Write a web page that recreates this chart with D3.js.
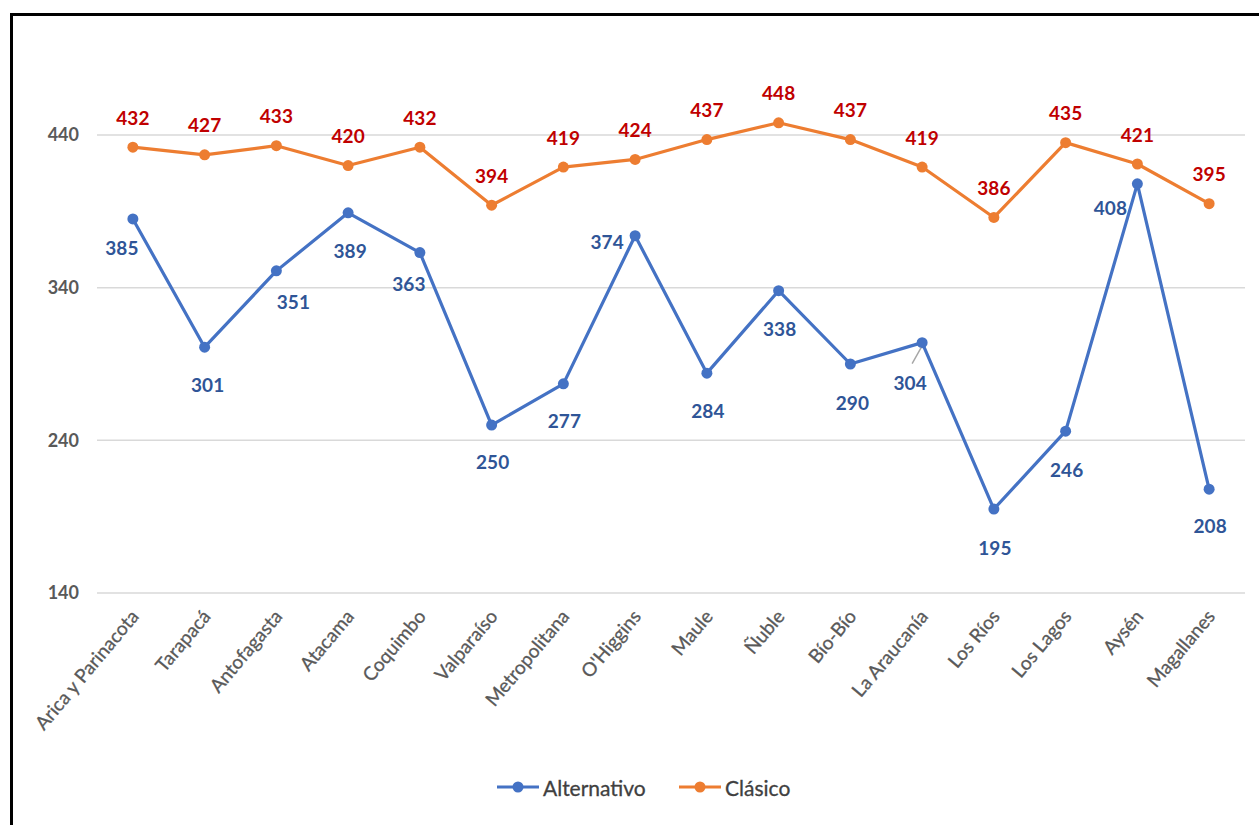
<!DOCTYPE html>
<html>
<head>
<meta charset="utf-8">
<script src="https://cdn.jsdelivr.net/npm/d3@7"></script>
<style>
  body { margin: 0; background: #fff; }
  svg { display: block; }
</style>
</head>
<body>
<div id="chart"></div>
<script>
// datos
var regiones = ["Arica y Parinacota", "Tarapacá", "Antofagasta", "Atacama", "Coquimbo", "Valparaíso",
    "Metropolitana", "O'Higgins", "Maule", "Ñuble", "Bío-Bío", "La Araucanía", "Los Ríos",
    "Los Lagos", "Aysén", "Magallanes"];
var alternativo = [385, 301, 351, 389, 363, 250, 277, 374, 284, 338, 290, 304, 195, 246, 408, 208];
var clasico = [432, 427, 433, 420, 432, 394, 419, 424, 437, 448, 437, 419, 386, 435, 421, 395];
var yTicks = [140, 240, 340, 440];

// desplazamiento de las etiquetas de Alternativo (dx, dy)
var altLabelOff = [[-11, 29], [3, 37], [17, 31], [2, 38], [-11, 31], [1, 36], [1, 37], [-28, 6],
    [1, 37], [1, 38], [2, 38], [-12, 40], [1, 38], [1, 38], [-27, 24], [1, 36]];

var W = 1259, H = 825;
var svg = d3.select("#chart").append("svg")
    .attr("width", W)
    .attr("height", H);

svg.append("rect")
    .attr("x", 11.5).attr("y", 14.5)
    .attr("width", W + 20).attr("height", H + 20)
    .attr("fill", "#fff")
    .attr("stroke", "#000")
    .attr("stroke-width", 3);

var x = d3.scaleBand().domain(regiones).range([97, 1245]);
var y = d3.scaleLinear().domain([140, 440]).range([593, 135]);
var cx = function (d, i) { return x(regiones[i]) + x.bandwidth() / 2; };

// rejilla
svg.append("g").selectAll("line")
    .data(yTicks).enter().append("line")
    .attr("x1", 97).attr("x2", 1245)
    .attr("y1", function (d) { return y(d); })
    .attr("y2", function (d) { return y(d); })
    .attr("stroke", "#d9d9d9")
    .attr("stroke-width", 1.5);

// eje y
var yAxis = svg.append("g")
    .attr("transform", "translate(79,0)")
    .call(d3.axisLeft(y).tickValues(yTicks).tickSize(0).tickPadding(0));
yAxis.select(".domain").remove();
yAxis.selectAll("text")
    .attr("font-family", "Lato, sans-serif")
    .attr("font-size", "18px")
    .attr("font-weight", "bold")
    .attr("fill", "#595959");

// eje x
var xAxis = svg.append("g")
    .attr("transform", "translate(0,593)")
    .call(d3.axisBottom(x).tickSize(0).tickPadding(0));
xAxis.select(".domain").remove();
xAxis.selectAll("text")
    .attr("font-family", "Lato, sans-serif")
    .attr("font-size", "19px")
    .attr("fill", "#595959")
    .attr("stroke", "#595959")
    .attr("stroke-width", 0.3)
    .attr("text-anchor", "end")
    .attr("dy", 0)
    .attr("transform", "translate(7,24) rotate(-50)");

var line = d3.line()
    .x(cx)
    .y(function (d) { return y(d); });

function serie(vals, color) {
    svg.append("path")
        .datum(vals)
        .attr("d", line)
        .attr("fill", "none")
        .attr("stroke", color)
        .attr("stroke-width", 3.2)
        .attr("stroke-linejoin", "round");
    svg.append("g").selectAll("circle")
        .data(vals).enter().append("circle")
        .attr("cx", cx)
        .attr("cy", function (d) { return y(d); })
        .attr("r", 5.5)
        .attr("fill", color);
}

serie(clasico, "#ED7D31");
serie(alternativo, "#4472C4");

// línea guía de la etiqueta 304
svg.append("line")
    .attr("x1", cx(0, 11) - 10).attr("y1", y(alternativo[11]) + 21)
    .attr("x2", cx(0, 11) - 1).attr("y2", y(alternativo[11]) + 5)
    .attr("stroke", "#a6a6a6")
    .attr("stroke-width", 1.5);

svg.append("g").selectAll("text")
    .data(clasico).enter().append("text")
    .attr("x", cx)
    .attr("y", function (d) { return y(d) - 30; })
    .attr("text-anchor", "middle")
    .attr("dominant-baseline", "central")
    .attr("font-family", "Lato, sans-serif")
    .attr("font-weight", "bold")
    .attr("font-size", "19px")
    .attr("fill", "#C00000")
    .text(function (d) { return d; });

svg.append("g").selectAll("text")
    .data(alternativo).enter().append("text")
    .attr("x", function (d, i) { return cx(d, i) + altLabelOff[i][0]; })
    .attr("y", function (d, i) { return y(d) + altLabelOff[i][1]; })
    .attr("text-anchor", "middle")
    .attr("dominant-baseline", "central")
    .attr("font-family", "Lato, sans-serif")
    .attr("font-weight", "bold")
    .attr("font-size", "19px")
    .attr("fill", "#2F5597")
    .text(function (d) { return d; });

// leyenda
var leyenda = [{ name: "Alternativo", color: "#4472C4", x: 497 }, { name: "Clásico", color: "#ED7D31", x: 679 }];
var lg = svg.append("g").selectAll("g")
    .data(leyenda).enter().append("g")
    .attr("transform", function (d) { return "translate(" + d.x + ",787)"; });
lg.append("line")
    .attr("x1", 0).attr("x2", 42)
    .attr("stroke", function (d) { return d.color; })
    .attr("stroke-width", 3.2);
lg.append("circle")
    .attr("cx", 21).attr("r", 5.5)
    .attr("fill", function (d) { return d.color; });
lg.append("text")
    .attr("x", 46)
    .attr("dominant-baseline", "central")
    .attr("font-family", "Lato, sans-serif")
    .attr("font-size", "21px")
    .attr("fill", "#404040")
    .attr("stroke", "#404040")
    .attr("stroke-width", 0.3)
    .text(function (d) { return d.name; });
</script>
</body>
</html>
